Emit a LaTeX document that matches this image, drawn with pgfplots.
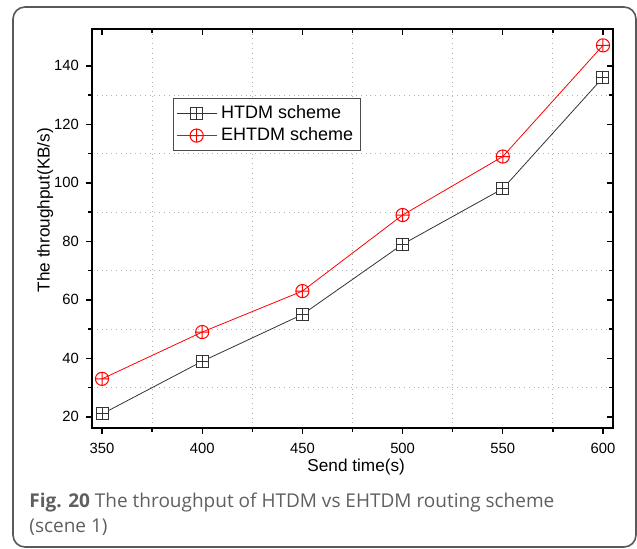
\documentclass[border=0pt]{standalone}
\usepackage{pgfplots}
\pgfplotsset{compat=1.18}
\usetikzlibrary{plotmarks}
\usepackage{fontspec}
\setmainfont{Liberation Sans}
\newfontfamily\capfont{Open Sans}
\definecolor{capgray}{RGB}{95,95,95}
\pgfdeclareplotmark{boxplus}{%
  \pgfpathrectangle{\pgfpoint{-\pgfplotmarksize}{-\pgfplotmarksize}}{\pgfpoint{2\pgfplotmarksize}{2\pgfplotmarksize}}%
  \pgfusepathqfillstroke
  \pgfpathmoveto{\pgfpoint{-\pgfplotmarksize}{0pt}}\pgfpathlineto{\pgfpoint{\pgfplotmarksize}{0pt}}%
  \pgfpathmoveto{\pgfpoint{0pt}{-\pgfplotmarksize}}\pgfpathlineto{\pgfpoint{0pt}{\pgfplotmarksize}}%
  \pgfusepathqstroke}
\begin{document}
\begin{tikzpicture}
\useasboundingbox (0,0) rectangle (318.5pt,274.5pt);
\draw[black!65, line width=0.8pt, rounded corners=6pt] (6.5pt,1pt) rectangle (318pt,271pt);
\begin{axis}[
  at={(46pt,60.5pt)}, anchor=south west,
  scale only axis, width=260.5pt, height=199.5pt,
  xmin=345, xmax=605, ymin=16.2, ymax=152.6,
  xtick={350,400,...,600}, ytick={20,40,...,140},
  minor x tick num=1, minor y tick num=1,
  xtick pos=bottom, ytick pos=left,
  tick align=outside,
  major tick length=3pt, minor tick length=1.8pt,
  every tick/.style={black, line width=0.7pt},
  axis line style={line width=1pt},
  grid=minor,
  minor grid style={gray!60, dotted, line width=0.5pt},
  tick label style={font=\fontsize{7.4}{8}\selectfont},
  /pgf/number format/assume math mode=true,
  xticklabel style={yshift=-1pt},
  xlabel={Send time(s)},
  ylabel={The throughput(KB/s)},
  label style={font=\fontsize{8.6}{10}\selectfont},
  xlabel style={at={(axis description cs:0.507,-0.108)}, anchor=base},
  ylabel style={at={(axis description cs:-0.09,0.546)}, anchor=center},
  legend style={at={(axis description cs:0.155,0.827)}, anchor=north west,
    font=\fontsize{9}{11}\selectfont, draw=black!70, line width=0.5pt,
    inner sep=1.5pt, row sep=-1pt},
  legend cell align=left,
  legend image code/.code={\draw[#1] (0pt,0pt) -- (20pt,0pt); \draw[#1, mark repeat=1] plot coordinates {(10pt,0pt)};},
]
\addplot[black!80, line width=0.4pt, mark=boxplus, mark size=3pt, mark options={black!80, fill=white, solid, line width=0.5pt}]
  coordinates {(350,21) (400,39) (450,55) (500,79) (550,98) (600,136)};
\addlegendentry{HTDM scheme}
\addplot[red, line width=0.4pt, mark=oplus, mark size=3.3pt, mark options={red, fill=white, solid, line width=0.5pt}]
  coordinates {(350,33) (400,49) (450,63) (500,89) (550,109) (600,147)};
\addlegendentry{EHTDM scheme}
\end{axis}
\begin{axis}[
  at={(46pt,60.5pt)}, anchor=south west,
  scale only axis, width=260.5pt, height=199.5pt,
  xmin=345, xmax=605, ymin=16.2, ymax=152.6,
  xtick={350,400,...,600}, ytick={20,40,...,140},
  minor x tick num=1, minor y tick num=1,
  xtick pos=top, ytick pos=right,
  tick align=inside,
  major tick length=3pt, minor tick length=1.8pt,
  every tick/.style={black, line width=0.7pt},
  axis line style={line width=1pt},
  xticklabels={}, yticklabels={},
]
\end{axis}
\node[anchor=base west, font=\capfont\fontsize{9.5}{11}\selectfont, text=capgray, inner sep=0pt] at (14.5pt,20.5pt) {\textbf{Fig. 20} The throughput of HTDM vs EHTDM routing scheme};
\node[anchor=base west, font=\capfont\fontsize{9.5}{11}\selectfont, text=capgray, inner sep=0pt] at (14.5pt,8pt) {(scene 1)};
\end{tikzpicture}
\end{document}
